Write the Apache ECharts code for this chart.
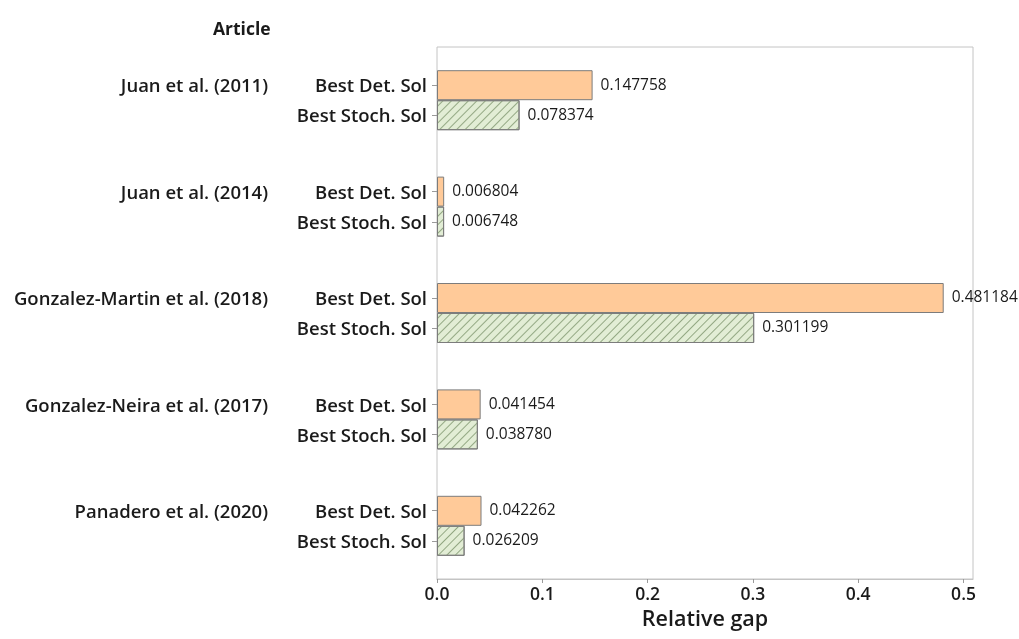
<!DOCTYPE html>
<html>
<head>
<meta charset="utf-8">
<script src="https://cdn.jsdelivr.net/npm/echarts@6/dist/echarts.min.js"></script>
<style>html,body{margin:0;padding:0;background:#fff}#c{width:1019px;height:639px}</style>
</head>
<body>
<div id="c"></div>
<script>
const articles = ['Juan et al. (2011)', 'Juan et al. (2014)', 'Gonzalez-Martin et al. (2018)', 'Gonzalez-Neira et al. (2017)', 'Panadero et al. (2020)'];
const seriesNames = ['Best Det. Sol', 'Best Stoch. Sol'];
const detValues = [0.147758, 0.006804, 0.481184, 0.041454, 0.042262];
const stochValues = [0.078374, 0.006748, 0.301199, 0.038780, 0.026209];
const xTicks = [0.0, 0.1, 0.2, 0.3, 0.4, 0.5];

const FONT = 'Open Sans';
const chart = echarts.init(document.getElementById('c'), null, {renderer: 'canvas'});

// finer slot axis used only for tick marks at each bar centre
const slotsPerGroup = 7;
const slots = [];
articles.forEach((a) => { for (let k = 0; k < slotsPerGroup; k++) slots.push(a + '#' + k); });

const labelStyle = {
  show: true, position: 'right', distance: 8,
  fontFamily: FONT, fontSize: 15.5, color: '#1a1a1a',
  formatter: p => p.value.toFixed(6)
};

chart.setOption({
  animation: false,
  backgroundColor: '#fff',
  title: {
    text: 'Article', left: 208, top: 16,
    textStyle: {fontFamily: FONT, fontSize: 17.5, fontWeight: 'bold', color: '#1a1a1a'}
  },
  grid: {left: 437, right: 46, top: 47, bottom: 60, show: true, borderColor: '#c4c4c4', borderWidth: 1, containLabel: false, outerBoundsMode: 'none'},
  xAxis: {
    type: 'value', min: 0, max: 0.509, interval: 0.1,
    name: 'Relative gap', nameLocation: 'middle', nameGap: 30,
    nameTextStyle: {fontFamily: FONT, fontSize: 21.5, fontWeight: 600, color: '#1a1a1a'},
    axisLine: {show: true, lineStyle: {color: '#c4c4c4'}},
    axisTick: {show: true, length: 4, customValues: xTicks, lineStyle: {color: '#9a9a9a'}},
    axisLabel: {customValues: xTicks, formatter: v => v.toFixed(1), fontFamily: FONT, fontSize: 17.5, fontWeight: 600, color: '#1a1a1a', margin: 7},
    splitLine: {show: false}
  },
  yAxis: [{
    type: 'category', data: articles, inverse: true, position: 'left',
    axisLine: {show: false}, axisTick: {show: false}, splitLine: {show: false},
    axisLabel: {
      margin: 10,
      padding: [4, 0, 0, 0],
      formatter: (v) => `{a|${v}}{b|${seriesNames[0]}}\n{a| }{b|${seriesNames[1]}}`,
      rich: {
        a: {width: 266, align: 'right', lineHeight: 30, fontFamily: FONT, fontSize: 18.5, fontWeight: 600, color: '#1a1a1a'},
        b: {width: 159, align: 'right', lineHeight: 30, fontFamily: FONT, fontSize: 18.5, fontWeight: 600, color: '#1a1a1a'}
      }
    }
  }, {
    type: 'category', data: slots, inverse: true, position: 'left', offset: 0,
    axisLine: {show: false}, axisLabel: {show: false}, splitLine: {show: false},
    axisTick: {show: true, alignWithLabel: true, length: 5, interval: (i) => (i % slotsPerGroup === 2 || i % slotsPerGroup === 4), lineStyle: {color: '#9a9a9a'}}
  }],
  series: [{
    name: seriesNames[0], type: 'bar', yAxisIndex: 0, data: detValues,
    barWidth: 30, barGap: '0%',
    itemStyle: {color: '#FFCA99', borderColor: '#7c7c7c', borderWidth: 1},
    label: labelStyle
  }, {
    name: seriesNames[1], type: 'bar', yAxisIndex: 0, data: stochValues,
    barWidth: 30, barGap: '0%',
    itemStyle: {
      color: '#E2EDD5', borderColor: '#7c7c7c', borderWidth: 1,
      decal: {symbol: 'rect', symbolSize: 1, dashArrayX: [1, 0], dashArrayY: [1, 5], rotation: -Math.PI / 4, color: '#93a883'}
    },
    label: labelStyle
  }]
});
</script>
</body>
</html>
